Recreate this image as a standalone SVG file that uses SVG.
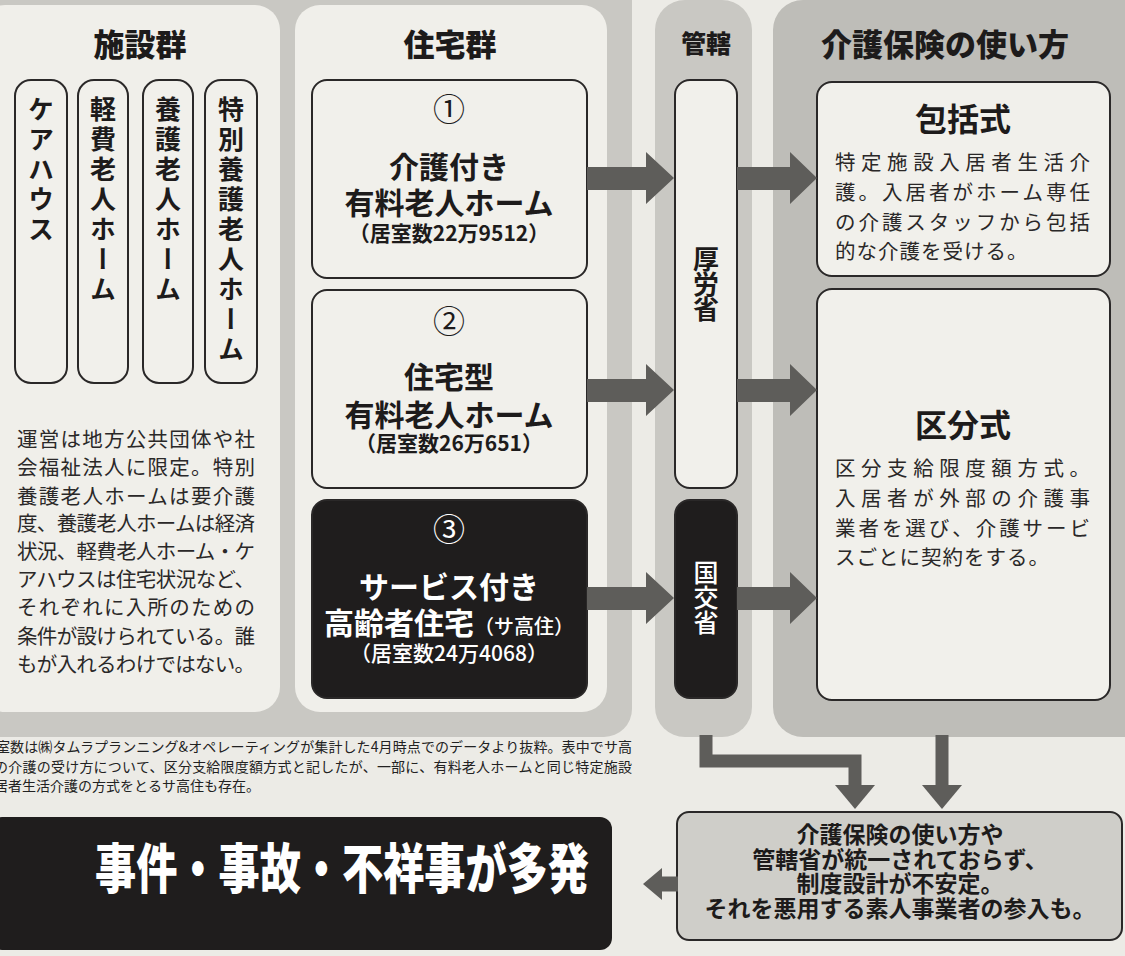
<svg xmlns="http://www.w3.org/2000/svg" width="1125" height="956" viewBox="0 0 1125 956">
<defs>
<style>
.bg{fill:#ecebe6}
.grey{fill:#c9c8c3}
.grey2{fill:#bebdb8}
.panel{fill:#f0efea}
.box{fill:#f1f0eb;stroke:#2a2828;stroke-width:2}
.dark{fill:#1f1d1d;stroke:#2a2828;stroke-width:2}
.arrow{fill:#5e5d5a}
.conn{stroke:#5e5d5a;stroke-width:13;fill:none;stroke-linejoin:miter}
text{font-family:"Noto Sans CJK JP","Noto Sans",sans-serif;fill:#1d1b1b}
.h{font-weight:900;font-size:31px;text-anchor:middle}
.v{writing-mode:vertical-rl;font-weight:700;font-size:26px;letter-spacing:4px}
.p{font-size:20.5px;fill:#2a2828}
.t{font-weight:700;font-size:30px;text-anchor:middle}
.s{font-weight:700;font-size:21px;text-anchor:middle}
.n{font-size:32px;text-anchor:middle}
.w{fill:#ffffff}
.note{font-size:14px;fill:#222}
</style>
</defs>
<rect class="bg" x="0" y="0" width="1125" height="956"/>
<rect class="grey" x="-30" y="-30" width="662" height="767" rx="28"/>

<g id="shisetsu">
<rect class="panel" x="-20" y="5" width="300" height="707" rx="25"/>
<text class="h" x="140" y="56">施設群</text>
<rect class="box" x="15" y="80" width="52" height="303" rx="16"/>
<rect class="box" x="78" y="80" width="50" height="303" rx="16"/>
<rect class="box" x="143" y="80" width="50" height="303" rx="16"/>
<rect class="box" x="205" y="80" width="52" height="303" rx="16"/>
<text class="v" x="41" y="96">ケアハウス</text>
<text class="v" x="103" y="96">軽費老人ホーム</text>
<text class="v" x="168" y="96">養護老人ホーム</text>
<text class="v" x="231" y="96">特別養護老人ホーム</text>
<g class="p">
<text class="p" x="17" y="447" textLength="238">運営は地方公共団体や社</text>
<text class="p" x="17" y="475" textLength="238">会福祉法人に限定。特別</text>
<text class="p" x="17" y="504" textLength="238">養護老人ホームは要介護</text>
<text class="p" x="17" y="531" textLength="238">度、養護老人ホームは経済</text>
<text class="p" x="17" y="559" textLength="238">状況、軽費老人ホーム・ケ</text>
<text class="p" x="17" y="587" textLength="238">アハウスは住宅状況など、</text>
<text class="p" x="17" y="615" textLength="238">それぞれに入所のための</text>
<text class="p" x="17" y="644" textLength="238">条件が設けられている。誰</text>
<text class="p" x="17" y="672" textLength="238">もが入れるわけではない。</text>
</g>
</g>

<g id="jutaku">
<rect class="panel" x="295" y="5" width="312" height="707" rx="25"/>
<text class="h" x="450" y="56">住宅群</text>
</g>

<g id="box1">
<rect class="box" x="312" y="80" width="275" height="198" rx="15"/>
<text class="n" x="449" y="121">①</text>
<text class="t" x="449" y="178">介護付き</text>
<text class="t" x="449" y="214">有料老人ホーム</text>
<text class="s" x="449" y="241">（居室数22万9512）</text>
</g>

<g id="box2">
<rect class="box" x="312" y="290" width="275" height="198" rx="15"/>
<text class="n" x="449" y="333">②</text>
<text class="t" x="449" y="388">住宅型</text>
<text class="t" x="449" y="426">有料老人ホーム</text>
<text class="s" x="449" y="451">（居室数26万651）</text>
</g>

<g id="box3">
<rect class="dark" x="312" y="500" width="275" height="198" rx="15"/>
<text class="n w" x="449" y="541">③</text>
<text class="t w" x="449" y="598">サービス付き</text>
<text class="t w" x="449" y="634">高齢者住宅<tspan style="font-size:20px;font-weight:500">（サ高住）</tspan></text>
<text class="s w" x="449" y="661" style="font-weight:500">（居室数24万4068）</text>
</g>

<g id="kankatsu">
<rect class="grey" x="655" y="0" width="97" height="737" rx="30"/>
<text class="h" x="706" y="53" style="font-size:25px">管轄</text>
</g>

<g id="koroshou">
<rect class="box" x="675" y="80" width="62" height="408" rx="15"/>
<text class="v" x="706" y="246" style="letter-spacing:-1px">厚労省</text>
</g>

<g id="kokkoshou">
<rect class="dark" x="675" y="500" width="62" height="198" rx="15"/>
<text class="v w" x="706" y="560" style="letter-spacing:0px;font-weight:500;font-size:25px">国交省</text>
</g>

<g id="hoken">
<rect class="grey2" x="773" y="0" width="380" height="737" rx="30"/>
<text class="h" x="945" y="56">介護保険の使い方</text>
</g>

<g id="houkatsu">
<rect class="box" x="817" y="82" width="293" height="194" rx="15"/>
<text class="t" x="963" y="131" style="font-size:32px">包括式</text>
<text class="p" x="835" y="170" textLength="255">特定施設入居者生活介</text>
<text class="p" x="835" y="200" textLength="255">護。入居者がホーム専任</text>
<text class="p" x="835" y="230" textLength="255">の介護スタッフから包括</text>
<text class="p" x="835" y="259" style="letter-spacing:1px">的な介護を受ける。</text>
</g>

<g id="kubun">
<rect class="box" x="817" y="289" width="293" height="411" rx="15"/>
<text class="t" x="963" y="437" style="font-size:32px">区分式</text>
<text class="p" x="835" y="476" textLength="255">区分支給限度額方式。</text>
<text class="p" x="835" y="506" textLength="255">入居者が外部の介護事</text>
<text class="p" x="835" y="536" textLength="255">業者を選び、介護サービ</text>
<text class="p" x="835" y="565" style="letter-spacing:1px">スごとに契約をする。</text>
</g>

<g id="notes">
<text class="note" x="-4" y="752" textLength="636">室数は㈱タムラプランニング&amp;オペレーティングが集計した4月時点でのデータより抜粋。表中でサ高</text>
<text class="note" x="-6" y="772" textLength="638">の介護の受け方について、区分支給限度額方式と記したが、一部に、有料老人ホームと同じ特定施設</text>
<text class="note" x="-6" y="791">居者生活介護の方式をとるサ高住も存在。</text>
</g>

<g id="problem">
<rect x="677" y="812" width="445" height="128" rx="12" fill="#cfcec9" stroke="#2a2828" stroke-width="2"/>
<text class="s" x="900" y="843" style="font-size:23px">介護保険の使い方や</text>
<text class="s" x="900" y="868" style="font-size:23px">管轄省が統一されておらず、</text>
<text class="s" x="900" y="892" style="font-size:23px">制度設計が不安定。</text>
<text class="s" x="900" y="917" style="font-size:23px">それを悪用する素人事業者の参入も。</text>
</g>

<g id="result">
<rect x="-10" y="817" width="622" height="133" rx="12" fill="#1f1d1d"/>
<text x="95" y="889" textLength="494" lengthAdjust="spacingAndGlyphs" style="font-size:54px;font-weight:900;fill:#fff">事件・事故・不祥事が多発</text>
</g>

<g id="connectors">
<polygon class="arrow" points="587,167 646,167 646,152 674,178 646,204 646,190 587,190"/>
<polygon class="arrow" points="587,379 646,379 646,364 674,390 646,416 646,402 587,402"/>
<polygon class="arrow" points="587,587 646,587 646,572 674,598 646,624 646,610 587,610"/>
<polygon class="arrow" points="737,167 790,167 790,152 817,178 790,204 790,190 737,190"/>
<polygon class="arrow" points="737,379 790,379 790,364 817,390 790,416 790,402 737,402"/>
<polygon class="arrow" points="737,587 790,587 790,572 817,598 790,624 790,610 737,610"/>
<polyline class="conn" points="706,735 706,761 855,761 855,788"/>
<polygon class="arrow" points="835,785 875,785 855,809"/>
<line class="conn" x1="942" y1="735" x2="942" y2="788"/>
<polygon class="arrow" points="922,785 962,785 942,809"/>
<line class="conn" x1="678" y1="884" x2="658" y2="884" style="stroke-width:15"/>
<polygon class="arrow" points="662,868 662,900 643,884"/>
</g>
</svg>
